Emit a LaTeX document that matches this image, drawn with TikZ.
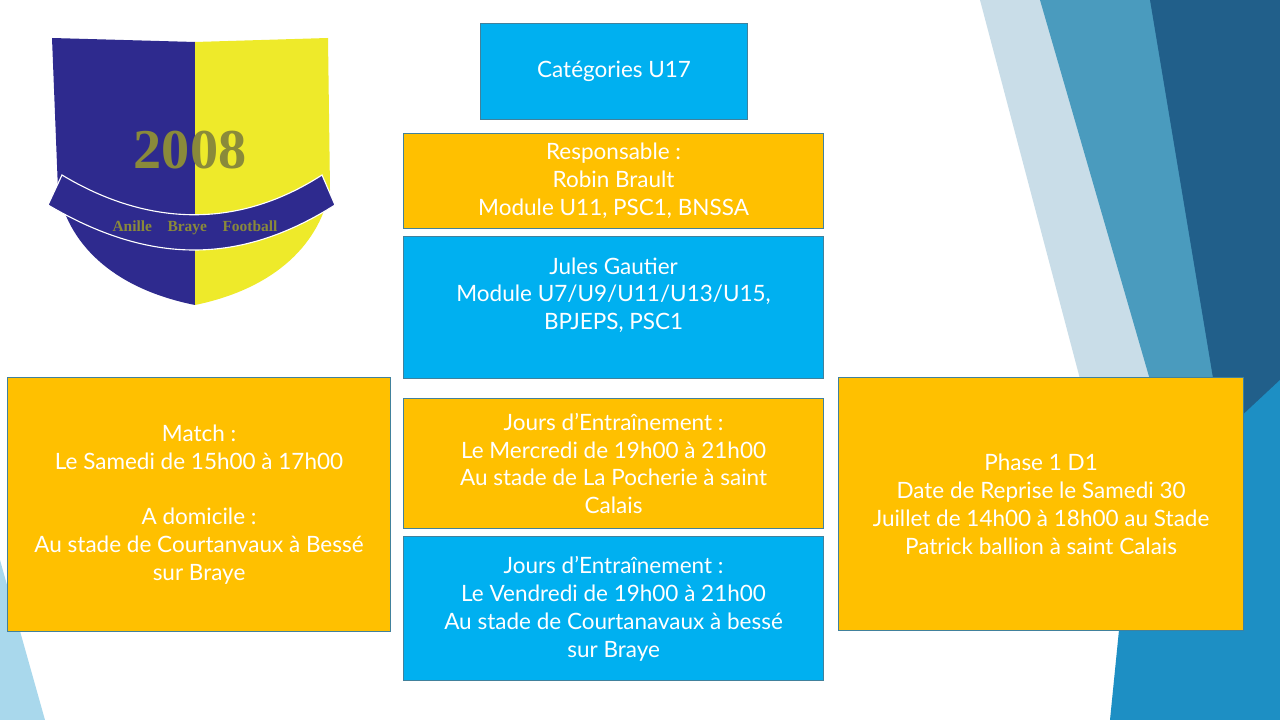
\documentclass[tikz,border=0pt]{standalone}
\usepackage{fontspec}
\setmainfont{Lato}
\usetikzlibrary{positioning}
\definecolor{slideblue}{HTML}{00B0F0}
\definecolor{slideorange}{HTML}{FFC000}
\definecolor{boxline}{HTML}{41819C}
\definecolor{shieldblue}{HTML}{2E2A8E}
\definecolor{shieldyellow}{HTML}{EEEA2A}
\definecolor{olivetext}{HTML}{8A8A3A}
\definecolor{panelight}{HTML}{C9DDE8}
\definecolor{panemid}{HTML}{4A9BBE}
\definecolor{panedark}{HTML}{215F8A}
\definecolor{paneteal}{HTML}{1D8FC4}
\definecolor{panecorner}{HTML}{A9D8EC}
\begin{document}
\begin{tikzpicture}[x=0.025cm,y=-0.025cm]
\tikzstyle{bluebox} = [draw=boxline, thick, fill=slideblue, rectangle, anchor=north west, align=center, text=white, font=\fontsize{16}{19.8}\selectfont]
\tikzstyle{orangebox} = [bluebox, fill=slideorange]
\useasboundingbox (0,0) rectangle (1280,720);

% Background panes
\fill[white] (0,0) rectangle (1280,720);
\fill[panelight] (980,0) -- (1280,0) -- (1280,720) -- (1170,720) -- cycle;
\fill[panemid] (1040,0) -- (1280,0) -- (1280,720) -- (1220,720) -- (1150,380) -- cycle;
\fill[panedark] (1150,0) -- (1280,0) -- (1280,520) -- (1215,390) -- cycle;
\fill[paneteal] (1130,520) -- (1280,380) -- (1280,720) -- (1110,720) -- cycle;
\fill[panecorner] (0,560) -- (45,720) -- (0,720) -- cycle;

% Logo
\fill[shieldblue] (52,38) -- (195,42) -- (195,305) .. controls (120,290) and (70,250) .. (58,190) -- cycle;
\fill[shieldyellow] (195,42) -- (328,38) -- (330,190) .. controls (318,250) and (268,290) .. (195,305) -- cycle;
\node[font=\fontsize{40}{40}\bfseries\fontspec{Liberation Serif}, text=olivetext] (year) at (190,150) {2008};
\fill[shieldblue, draw=white, thick] (48,205) .. controls (150,265) and (240,265) .. (335,205) -- (322,175) .. controls (240,228) and (150,228) .. (62,175) -- cycle;
\node[font=\fontsize{11}{11}\bfseries\fontspec{Liberation Serif}, text=olivetext] (club) at (195,228) {Anille\quad Braye\quad Football};

% Boxes
\node[bluebox, minimum width=267*0.025cm, minimum height=96*0.025cm] (cat) at (480,23) {Catégories U17};
\node[orangebox, minimum width=420*0.025cm, minimum height=95*0.025cm] (resp) at (403,133) {Responsable :\\Robin Brault\\Module U11, PSC1, BNSSA};
\node[bluebox, minimum width=420*0.025cm, minimum height=142*0.025cm] (jules) at (403,236) {Jules Gautier\\Module U7/U9/U11/U13/U15,\\BPJEPS, PSC1\\~};
\node[orangebox, minimum width=383*0.025cm, minimum height=254*0.025cm] (match) at (7,377) {Match :\\Le Samedi de 15h00 à 17h00\\~\\A domicile :\\Au stade de Courtanvaux à Bessé\\sur Braye};
\node[orangebox, minimum width=420*0.025cm, minimum height=130*0.025cm] (mercredi) at (403,398) {Jours d’Entraînement :\\Le Mercredi de 19h00 à 21h00\\Au stade de La Pocherie à saint\\Calais};
\node[bluebox, minimum width=420*0.025cm, minimum height=144*0.025cm] (vendredi) at (403,536) {Jours d’Entraînement :\\Le Vendredi de 19h00 à 21h00\\Au stade de Courtanavaux à bessé\\sur Braye};
\node[orangebox, minimum width=405*0.025cm, minimum height=253*0.025cm] (phase) at (838,377) {Phase 1 D1\\Date de Reprise le Samedi 30\\Juillet de 14h00 à 18h00 au Stade\\Patrick ballion à saint Calais};
\end{tikzpicture}
\end{document}
